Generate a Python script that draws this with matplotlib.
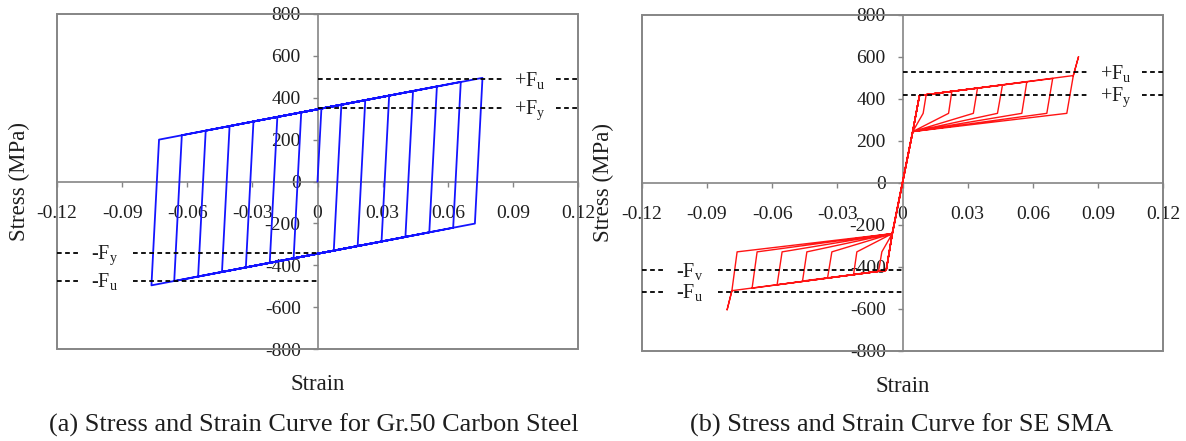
import matplotlib
matplotlib.use("Agg")
import matplotlib.pyplot as plt
from matplotlib.patches import Rectangle

# ---------------- data ----------------
x_ticks = [-0.12, -0.09, -0.06, -0.03, 0.0, 0.03, 0.06, 0.09, 0.12]
x_tick_labels = ["-0.12", "-0.09", "-0.06", "-0.03", "0", "0.03", "0.06", "0.09", "0.12"]
y_ticks = [-800, -600, -400, -200, 0, 200, 400, 600, 800]
y_tick_labels = ["-800", "-600", "-400", "-200", "0", "200", "400", "600", "800"]

# Gr.50 carbon steel: reversal points of the cyclic path
steel_yield = (0.0018, 349)
steel_peak_pos_strain = [0.011, 0.022, 0.033, 0.044, 0.055, 0.066, 0.076]
steel_peak_pos_stress = [367, 389, 410, 432, 454, 476, 495]
steel_unl_pos_strain = [0.0075, 0.0185, 0.0295, 0.0405, 0.0515, 0.0625, 0.0725]
steel_unl_pos_stress = [-330, -308, -287, -265, -243, -221, -201]
steel_peak_neg_strain = [-0.011, -0.022, -0.033, -0.044, -0.055, -0.066, -0.0765]
steel_peak_neg_stress = [-367, -389, -410, -432, -454, -476, -496]
steel_unl_neg_strain = [-0.0075, -0.0185, -0.0295, -0.0405, -0.0515, -0.0625, -0.073]
steel_unl_neg_stress = [330, 308, 287, 265, 243, 221, 200]
steel_end = (0.0, 345)
steel_levels = {"+Fu": 488, "+Fy": 350, "-Fy": -340, "-Fu": -475}

# SE SMA: flag-shaped cycles
sma_start_pos = (0.0078, 415)
sma_start_neg = (-0.0075, -418)
sma_recover_pos = (0.0047, 243)
sma_recover_neg = (-0.0047, -243)
sma_peak_pos_strain = [0.0109, 0.0227, 0.0345, 0.046, 0.0572, 0.0691, 0.0786]
sma_peak_pos_stress = [419, 435, 450, 465, 480, 496, 510]
sma_unl_pos_strain = [0.0095, 0.0212, 0.0326, 0.0437, 0.0549, 0.0664, 0.0756]
sma_unl_pos_stress = [330, 330, 330, 330, 330, 330, 330]
sma_peak_neg_strain = [-0.011, -0.0225, -0.0345, -0.046, -0.0577, -0.0692, -0.0785]
sma_peak_neg_stress = [-422, -437, -455, -469, -487, -503, -515]
sma_unl_neg_strain = [-0.0095, -0.021, -0.0325, -0.044, -0.0554, -0.0669, -0.0761]
sma_unl_neg_stress = [-330, -330, -330, -330, -330, -330, -330]
sma_tip_pos = (0.081, 600)
sma_tip_neg = (-0.0807, -606)
sma_levels = {"+Fu": 525, "+Fy": 418, "-Fy": -418, "-Fu": -520}

# ---------------- build paths ----------------
steel_x, steel_y = [0.0, steel_yield[0]], [0.0, steel_yield[1]]
for i in range(len(steel_peak_pos_strain)):
    steel_x += [steel_peak_pos_strain[i], steel_unl_pos_strain[i],
                steel_peak_neg_strain[i], steel_unl_neg_strain[i]]
    steel_y += [steel_peak_pos_stress[i], steel_unl_pos_stress[i],
                steel_peak_neg_stress[i], steel_unl_neg_stress[i]]
steel_x.append(steel_end[0])
steel_y.append(steel_end[1])

sma_x, sma_y = [0.0], [0.0]
n = len(sma_peak_pos_strain)
for i in range(n):
    last = i == n - 1
    sma_x += [sma_recover_pos[0], sma_start_pos[0], sma_peak_pos_strain[i]]
    sma_y += [sma_recover_pos[1], sma_start_pos[1], sma_peak_pos_stress[i]]
    if last:
        sma_x += [sma_tip_pos[0], sma_peak_pos_strain[i]]
        sma_y += [sma_tip_pos[1], sma_peak_pos_stress[i]]
    sma_x += [sma_unl_pos_strain[i], sma_recover_pos[0], sma_recover_neg[0],
              sma_start_neg[0], sma_peak_neg_strain[i]]
    sma_y += [sma_unl_pos_stress[i], sma_recover_pos[1], sma_recover_neg[1],
              sma_start_neg[1], sma_peak_neg_stress[i]]
    if last:
        sma_x += [sma_tip_neg[0], sma_peak_neg_strain[i]]
        sma_y += [sma_tip_neg[1], sma_peak_neg_stress[i]]
    sma_x += [sma_unl_neg_strain[i], sma_recover_neg[0]]
    sma_y += [sma_unl_neg_stress[i], sma_recover_neg[1]]

# ---------------- style ----------------
plt.rcParams["font.family"] = ["Liberation Serif", "DejaVu Serif"]
plt.rcParams["mathtext.fontset"] = "custom"
plt.rcParams["mathtext.rm"] = "Liberation Serif"
plt.rcParams["mathtext.it"] = "Liberation Serif:italic"

GRAY = "#858585"
TXT = "#1e1e1e"
W, H = 1186, 441

fig = plt.figure(figsize=(W / 100, H / 100), dpi=100)
ax1 = fig.add_axes([57 / W, (H - 349) / H, 521 / W, 335 / H])
ax2 = fig.add_axes([641.7 / W, (H - 350.5) / H, 521.6 / W, 335.8 / H])


def style_axes(ax):
    ax.set_xlim(-0.12, 0.12)
    ax.set_ylim(-800, 800)
    ax.set_xticks(x_ticks)
    ax.set_xticklabels(x_tick_labels)
    ax.set_yticks(y_ticks)
    ax.set_yticklabels(y_tick_labels)
    for s in ["top", "right"]:
        ax.spines[s].set_visible(False)
    ax.spines["left"].set_position(("data", 0))
    ax.spines["bottom"].set_position(("data", 0))
    for s in ["left", "bottom"]:
        ax.spines[s].set_color(GRAY)
        ax.spines[s].set_linewidth(1.2)
    ax.add_patch(Rectangle((0, 0), 1, 1, transform=ax.transAxes, fill=False,
                           ec=GRAY, lw=1.4, clip_on=False, zorder=2.5))
    ax.tick_params(axis="both", direction="out", length=3.6, width=1.0,
                   color=GRAY, labelsize=14, labelcolor=TXT)
    ax.tick_params(axis="x", pad=13)
    ax.tick_params(axis="y", pad=8.5)
    ax.set_facecolor("white")
    ax.text(-38 / 521, 0.5, "Stress (MPa)", transform=ax.transAxes, rotation=90,
            ha="center", va="center", fontsize=16.5, color=TXT)
    ax.text(0.5, -41 / 335, "Strain", transform=ax.transAxes,
            ha="center", va="baseline", fontsize=16.5, color=TXT)


def fy_lines(ax, levels, neg_y_sub):
    gap_lo, gap_hi, lab_x = 0.085, 0.110, 0.098
    kw = dict(color="black", lw=1.3, dashes=(2.6, 1.9), zorder=4)
    for key, lvl in levels.items():
        if key.startswith("+"):
            ax.plot([0, gap_lo], [lvl, lvl], **kw)
            ax.plot([gap_hi, 0.12], [lvl, lvl], **kw)
            sign, x = "+", lab_x
        else:
            ax.plot([-0.12, -gap_hi], [lvl, lvl], **kw)
            ax.plot([-gap_lo, 0], [lvl, lvl], **kw)
            sign, x = "-", -lab_x
        sub = "u" if key.endswith("u") else ("y" if sign == "+" else neg_y_sub)
        ax.annotate(sign + "F$_{\\rm " + sub + "}$", xy=(x, lvl), xytext=(0, -4.5),
                    textcoords="offset points", ha="center", va="baseline",
                    fontsize=14.5, color=TXT, annotation_clip=False)


style_axes(ax1)
style_axes(ax2)

ax1.plot(steel_x, steel_y, color="#1414ff", lw=1.3, zorder=3)
ax2.plot(sma_x, sma_y, color="#ff1414", lw=1.0, zorder=3)

fy_lines(ax1, steel_levels, "y")
fy_lines(ax2, sma_levels, "v")

fig.text(314 / W, (H - 432) / H, "(a) Stress and Strain Curve for Gr.50 Carbon Steel",
         ha="center", va="baseline", fontsize=18.9, color=TXT)
fig.text(901.5 / W, (H - 432) / H, "(b) Stress and Strain Curve for SE SMA",
         ha="center", va="baseline", fontsize=18.9, color=TXT)

fig.savefig("out.png", dpi=100, facecolor="white")
